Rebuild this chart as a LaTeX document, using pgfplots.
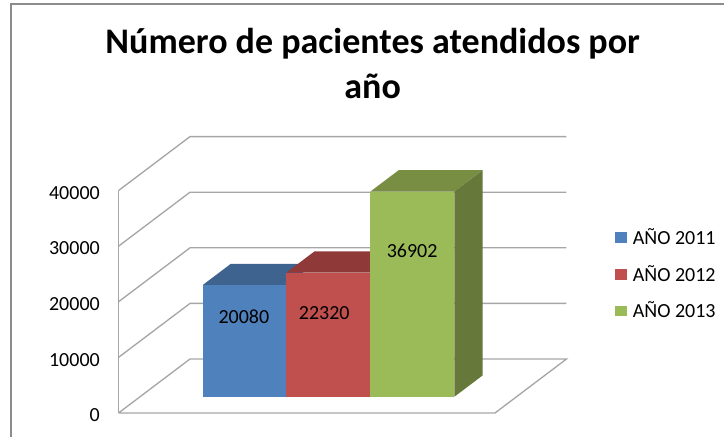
\documentclass[border=0pt]{standalone}
\usepackage{fontspec}
\setmainfont{Carlito}
\usepackage{pgfplots}
\pgfplotsset{compat=1.18}
\definecolor{bluef}{HTML}{4F81BD}
\definecolor{bluet}{HTML}{3E638F}
\definecolor{redf}{HTML}{C0504D}
\definecolor{redt}{HTML}{8F3A38}
\definecolor{greenf}{HTML}{9BBB59}
\definecolor{greent}{HTML}{788F43}
\definecolor{greens}{HTML}{66783A}
\definecolor{gridc}{HTML}{A6A6A6}
\definecolor{framec}{HTML}{8C8C8C}
\begin{document}
\begin{tikzpicture}[x=1pt,y=1pt]
\useasboundingbox (0,0) rectangle (543,327.75);
\draw[framec,line width=1.2pt] (8.25,0) -- (8.25,324.75) -- (543,324.75);
\node[font=\fontsize{27}{32}\selectfont\bfseries,anchor=base] at (279.5,287.5) {N\'umero de pacientes atendidos por};
\node[font=\fontsize{27}{32}\selectfont\bfseries,anchor=base] at (279.5,254.2) {a\~no};
\begin{axis}[
  at={(88.875pt,18pt)},anchor=origin,
  x={(62.775pt,0pt)},y={(53.625pt,40.5pt)},z={(0pt,0.0041625pt)},
  xmin=0,xmax=4.498,ymin=0,ymax=1,zmin=0,zmax=40000,
  axis x line=none,axis y line=none,axis z line*=left,
  axis line style={draw=none},
  xtick=\empty,ytick=\empty,
  ztick={0,10000,20000,30000,40000},
  major tick length=0pt,
  /pgf/number format/assume math mode=true,
  /pgf/number format/1000 sep={},
  scaled z ticks=false,
  ticklabel style={font=\fontsize{15}{18}\selectfont},
  zticklabel style={anchor=east,xshift=-10.5pt,yshift=-1.7pt},
  clip=false,
  legend style={draw=none,fill=none,at={(1.099,0.687)},anchor=north west,font=\fontsize{15}{18}\selectfont,row sep=10pt},
  legend cell align=left,
  legend image code/.code={\fill[#1] (0pt,-4pt) rectangle (9pt,4pt);\path (11.25pt,0pt);},
]
% walls and floor
\addplot3[gridc,line width=1pt,forget plot] coordinates {(0,0,0)(0,0,40000)};
\addplot3[gridc,line width=1pt,forget plot] coordinates {(0,0,0)(4.498,0,0)(4.498,1,0)(0,1,0)(0,0,0)};
\addplot3[gridc,line width=1pt,forget plot] coordinates {(0,0,10000)(0,1,10000)(4.498,1,10000)};
\addplot3[gridc,line width=1pt,forget plot] coordinates {(0,0,20000)(0,1,20000)(4.498,1,20000)};
\addplot3[gridc,line width=1pt,forget plot] coordinates {(0,0,30000)(0,1,30000)(4.498,1,30000)};
\addplot3[gridc,line width=1pt,forget plot] coordinates {(0,0,40000)(0,1,40000)(4.498,1,40000)};
% 2011
\addplot3[fill=bluet,draw=none,forget plot] coordinates {(0.748,0.302,20080)(1.748,0.302,20080)(1.748,0.696,20080)(0.748,0.696,20080)} -- cycle;
\addplot3[fill=bluef,draw=none] coordinates {(0.748,0.302,0)(1.748,0.302,0)(1.748,0.302,20080)(0.748,0.302,20080)} -- cycle;
\addlegendentry{AÑO 2011}
% 2012
\addplot3[fill=redt,draw=none,forget plot] coordinates {(1.748,0.302,22320)(2.752,0.302,22320)(2.752,0.696,22320)(1.748,0.696,22320)} -- cycle;
\addplot3[fill=redf,draw=none] coordinates {(1.748,0.302,0)(2.752,0.302,0)(2.752,0.302,22320)(1.748,0.302,22320)} -- cycle;
\addlegendentry{AÑO 2012}
% 2013
\addplot3[fill=greent,draw=none,forget plot] coordinates {(2.752,0.302,36902)(3.756,0.302,36902)(3.756,0.696,36902)(2.752,0.696,36902)} -- cycle;
\addplot3[fill=greens,draw=none,forget plot] coordinates {(3.756,0.302,0)(3.756,0.696,0)(3.756,0.696,36902)(3.756,0.302,36902)} -- cycle;
\addplot3[fill=greenf,draw=none] coordinates {(2.752,0.302,0)(3.756,0.302,0)(3.756,0.302,36902)(2.752,0.302,36902)} -- cycle;
\addlegendentry{AÑO 2013}
\node[font=\fontsize{15}{18}\selectfont] at (axis cs:1.24,0.302,14360) {20080};
\node[font=\fontsize{15}{18}\selectfont] at (axis cs:2.20,0.302,15080) {22320};
\node[font=\fontsize{15}{18}\selectfont] at (axis cs:3.25,0.302,26250) {36902};
\end{axis}
\end{tikzpicture}
\end{document}
